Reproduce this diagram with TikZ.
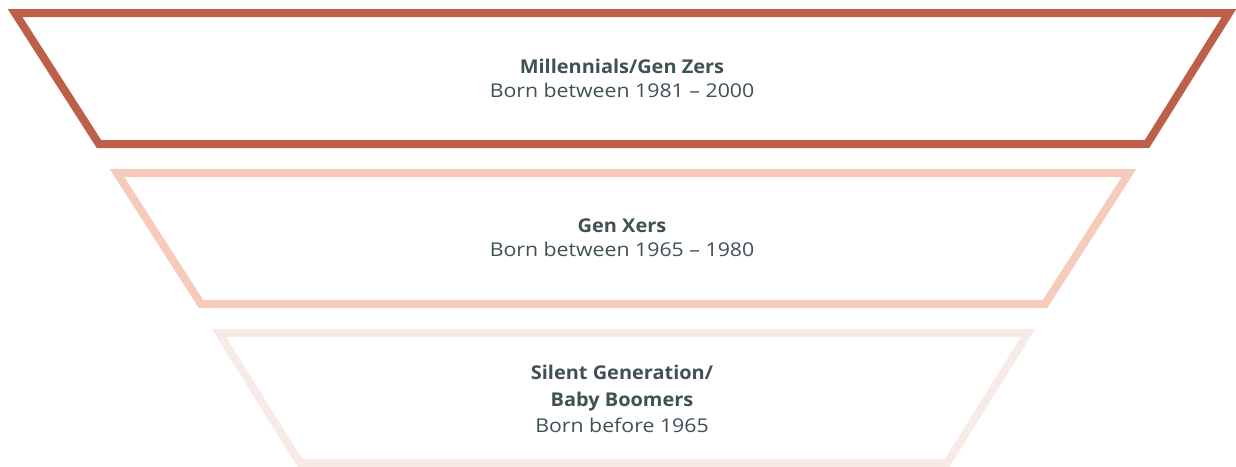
\documentclass[tikz,border=0pt]{standalone}
\usepackage{fontspec}
\setmainfont{Open Sans}[FakeStretch=1.12,BoldFeatures={FakeStretch=1.05}]
\definecolor{rust}{HTML}{BC604A}
\definecolor{peach}{HTML}{F7CBBC}
\definecolor{blush}{HTML}{F8EAE6}
\definecolor{slate}{HTML}{3E5154}
\begin{document}
\begin{tikzpicture}[x=1pt,y=-1pt,
  tier/.style={line width=8pt,line join=miter},
  txt/.style={anchor=base,inner sep=0pt,text=slate,font=\fontsize{19}{23}\selectfont},
  ttl/.style={txt,font=\fontsize{19}{23}\selectfont\bfseries}]
\useasboundingbox (0,0) rectangle (1236,466);
\draw[tier,rust] (15,13) -- (1229,13) -- (1147,144) -- (99,144) -- cycle;
\draw[tier,peach] (117,173) -- (1129,173) -- (1045,304) -- (201,304) -- cycle;
\draw[tier,blush] (219,333) -- (1028,333) -- (947,463) -- (300,463) -- cycle;
\node[ttl] (t1) at (622,73) {Millennials/Gen Zers};
\node[txt] (s1) at (622,97) {Born between 1981 – 2000};
\node[ttl] (t2) at (622,232) {Gen Xers};
\node[txt] (s2) at (622,256) {Born between 1965 – 1980};
\node[ttl] (t3a) at (622,379) {Silent Generation/};
\node[ttl] (t3b) at (622,406) {Baby Boomers};
\node[txt] (s3) at (622,432) {Born before 1965};
\end{tikzpicture}
\end{document}
